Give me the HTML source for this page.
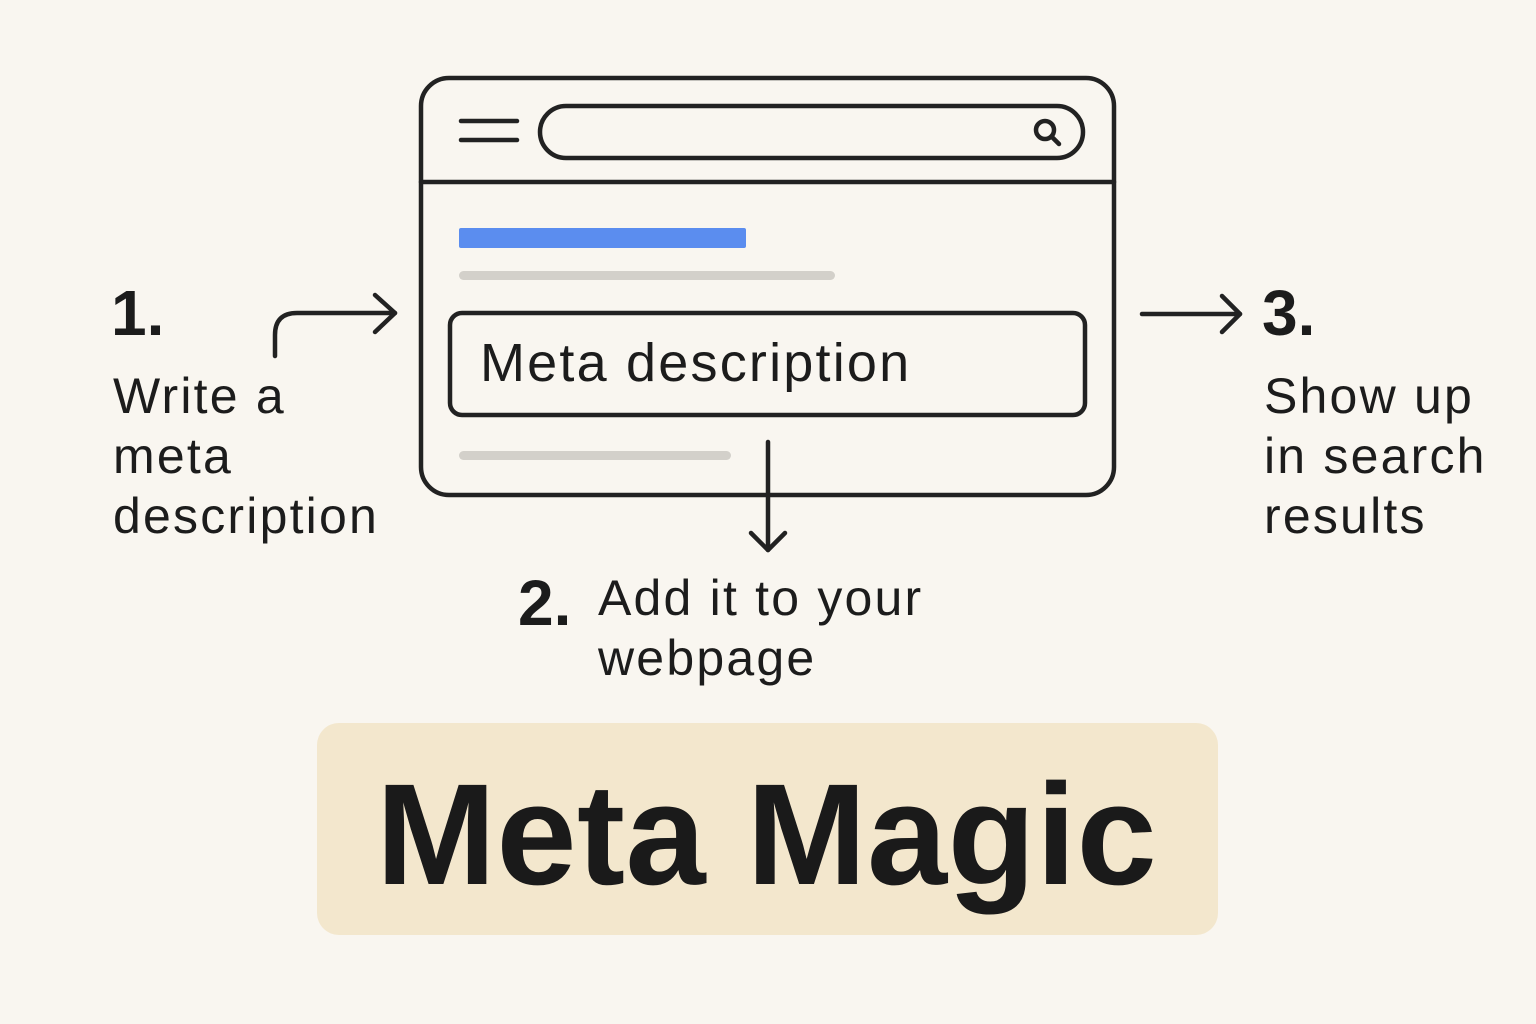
<!DOCTYPE html>
<html><head><meta charset="utf-8"><style>
html,body{margin:0;padding:0;}
body{width:1536px;height:1024px;background:#f9f6f0;position:relative;overflow:hidden;font-family:"Liberation Sans",sans-serif;color:#1c1c1c;}
.t{position:absolute;white-space:nowrap;}
.b{letter-spacing:2.2px;}
</style></head><body>
<svg width="1536" height="1024" style="position:absolute;left:0;top:0">
<rect x="317" y="723" width="901" height="212" rx="22" fill="#f3e7cd"/>
<g fill="none" stroke="#222" stroke-width="4.5" stroke-linecap="round" stroke-linejoin="round">
<rect x="421" y="78" width="693" height="417" rx="28"/>
<line x1="421" y1="182" x2="1114" y2="182"/>
<line x1="461" y1="121" x2="517" y2="121"/>
<line x1="461" y1="140" x2="517" y2="140"/>
<rect x="540" y="106" width="543" height="52" rx="26"/>
<circle cx="1045" cy="130" r="9"/>
<line x1="1052" y1="137" x2="1059" y2="144"/>
<rect x="450" y="313" width="635" height="102" rx="12"/>
<path d="M275 356 V335 Q275 313 297 313 H395"/>
<path d="M375 295 L395 313 L375 332"/>
<path d="M1142 314 H1240"/>
<path d="M1222 296 L1240 314 L1222 332"/>
<path d="M768 442 V550"/>
<path d="M751 533 L768 550 L785 533"/>
</g>
<rect x="459" y="228" width="287" height="20" rx="2" fill="#5b8def"/>
<rect x="459" y="271" width="376" height="9" rx="4.5" fill="#d3d0ca"/>
<rect x="459" y="451" width="272" height="9" rx="4.5" fill="#d3d0ca"/>
</svg>
<div class="t b" style="left:480px;top:332px;font-size:54px;">Meta description</div>
<div class="t" style="left:111px;top:276px;font-size:64px;font-weight:bold;">1.</div>
<div class="t b" style="left:113px;top:366px;font-size:50px;line-height:60px;">Write a<br>meta<br>description</div>
<div class="t" style="left:1262px;top:276px;font-size:64px;font-weight:bold;">3.</div>
<div class="t b" style="left:1264px;top:366px;font-size:50px;line-height:60px;">Show up<br>in search<br>results</div>
<div class="t" style="left:518px;top:566px;font-size:64px;font-weight:bold;">2.</div>
<div class="t b" style="left:598px;top:568px;font-size:50px;line-height:60px;">Add it to your<br>webpage</div>
<div class="t" style="left:376px;top:763px;font-size:144px;line-height:1;font-weight:bold;letter-spacing:0.5px;color:#1a1a1a;">Meta Magic</div>
</body></html>
